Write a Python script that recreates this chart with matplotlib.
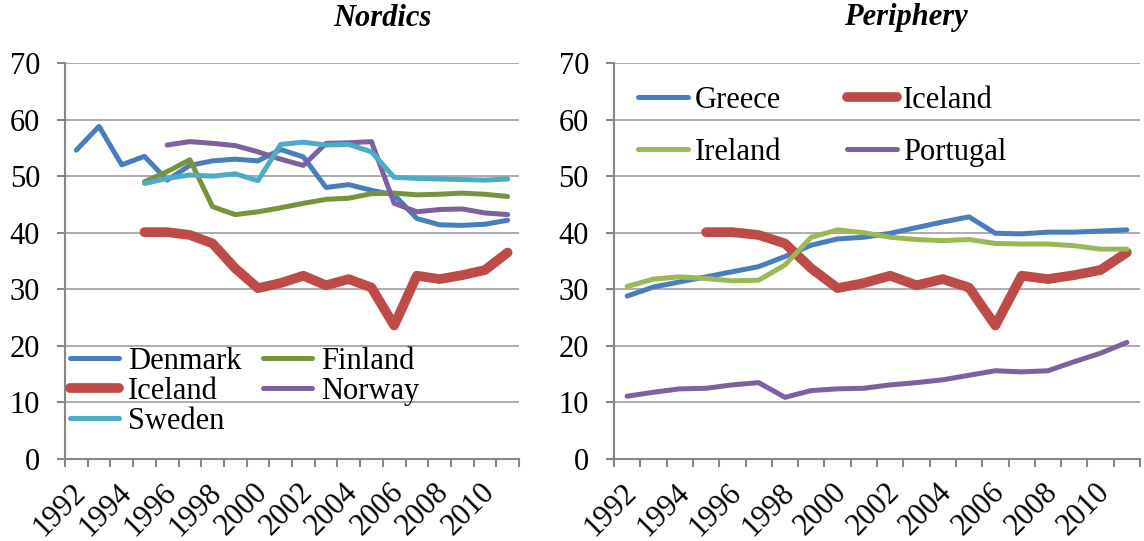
import numpy as np
import matplotlib
matplotlib.use("Agg")
import matplotlib.pyplot as plt
import matplotlib.transforms as mtransforms
from matplotlib.ticker import FixedLocator, NullFormatter, FixedFormatter

nan = np.nan
years = list(range(1992, 2012))
label_years = [str(y) for y in years[::2]]

denmark = [54.6, 58.8, 52.0, 53.5, 49.3, 51.9, 52.7, 53.0, 52.7, 54.7,
           53.4, 48.0, 48.5, 47.5, 46.7, 42.5, 41.4, 41.3, 41.5, 42.2]
finland = [nan, nan, nan, 49.0, 50.8, 52.9, 44.6, 43.2, 43.7, 44.4,
           45.2, 45.9, 46.1, 46.9, 47.0, 46.7, 46.8, 47.0, 46.8, 46.4]
iceland = [nan, nan, nan, 40.1, 40.1, 39.6, 38.1, 33.7, 30.2, 31.1,
           32.4, 30.7, 31.8, 30.3, 23.6, 32.4, 31.8, 32.5, 33.4, 36.5]
norway = [nan, nan, nan, nan, 55.5, 56.1, 55.8, 55.4, 54.3, 53.0,
          51.9, 55.8, 55.9, 56.1, 45.2, 43.7, 44.1, 44.2, 43.5, 43.2]
sweden = [nan, nan, nan, 48.7, 49.6, 50.2, 50.0, 50.4, 49.2, 55.6,
          56.0, 55.5, 55.6, 54.3, 49.8, 49.6, 49.5, 49.4, 49.3, 49.5]

greece = [28.8, 30.4, 31.3, 32.2, 33.1, 34.0, 35.8, 37.8, 38.9, 39.2,
          39.9, 40.9, 41.9, 42.8, 39.9, 39.8, 40.1, 40.1, 40.3, 40.5]
ireland = [30.5, 31.8, 32.2, 31.9, 31.5, 31.6, 34.3, 39.2, 40.5, 40.0,
           39.2, 38.8, 38.6, 38.8, 38.1, 38.0, 38.0, 37.7, 37.1, 37.1]
portugal = [11.1, 11.8, 12.4, 12.5, 13.1, 13.5, 10.9, 12.1, 12.4, 12.5,
            13.1, 13.5, 14.0, 14.8, 15.6, 15.4, 15.6, 17.2, 18.7, 20.6]

plt.rcParams['font.family'] = ['Liberation Serif', 'DejaVu Serif']
FS = 22
W, H = 1144, 541
fig = plt.figure(figsize=(W / 100, H / 100), dpi=100)

def px_axes(x0, x1, y0, y1):
    return fig.add_axes([x0 / W, (H - y1) / H, (x1 - x0) / W, (y1 - y0) / H])

axL = px_axes(65, 519, 63, 459)
axR = px_axes(614, 1140, 63, 459)

BLUE = '#4A7EBB'
RED = '#BE4B48'
OLIVE = '#77933C'
LGREEN = '#98B954'
PURPLE = '#7D60A0'
AQUA = '#4BACC6'
THIN = 3.6
THICK = 7.0
GRID = '#A6A6A6'
AXC = '#868686'

x = np.arange(len(years))
shift = mtransforms.ScaledTranslation(5 / 100, 0, fig.dpi_scale_trans)

def style(ax):
    ax.set_xlim(-0.5, len(years) - 0.5)
    ax.set_ylim(0, 70)
    ax.set_yticks(np.arange(0, 71, 10))
    ax.yaxis.grid(True, color=GRID, linewidth=1.3)
    ax.set_axisbelow(True)
    for s in ['top', 'right']:
        ax.spines[s].set_visible(False)
    for s in ['left', 'bottom']:
        ax.spines[s].set_color(AXC)
        ax.spines[s].set_linewidth(1.5)
    ax.xaxis.set_major_locator(FixedLocator(np.arange(-0.5, len(years), 1.0)))
    ax.xaxis.set_major_formatter(NullFormatter())
    ax.xaxis.set_minor_locator(FixedLocator(x[::2]))
    ax.xaxis.set_minor_formatter(FixedFormatter(label_years))
    ax.tick_params(axis='x', which='major', direction='out', length=6,
                   width=1.5, color=AXC)
    ax.tick_params(axis='x', which='minor', length=0, pad=21, labelsize=FS)
    ax.tick_params(axis='y', direction='out', length=6, width=1.5,
                   color=AXC, labelsize=FS, pad=12)
    for lab in ax.xaxis.get_minorticklabels():
        lab.set_rotation(45)
        lab.set_ha('right')
        lab.set_va('center')
        lab.set_rotation_mode('anchor')
        lab.set_transform(lab.get_transform() + shift)

def plot(ax, vals, color, lw, label):
    return ax.plot(x, vals, color=color, lw=lw, label=label,
                   solid_capstyle='round', solid_joinstyle='round')[0]

style(axL)
style(axR)

hD = plot(axL, denmark, BLUE, THIN, 'Denmark')
hF = plot(axL, finland, OLIVE, THIN, 'Finland')
hI = plot(axL, iceland, RED, THICK, 'Iceland')
hN = plot(axL, norway, PURPLE, THIN, 'Norway')
hS = plot(axL, sweden, AQUA, THIN, 'Sweden')

hG = plot(axR, greece, BLUE, THIN, 'Greece')
hI2 = plot(axR, iceland, RED, THICK, 'Iceland')
hIr = plot(axR, ireland, LGREEN, THIN, 'Ireland')
hP = plot(axR, portugal, PURPLE, THIN, 'Portugal')

fig.legend(handles=[hD, hI, hS, hF, hN], ncol=2, frameon=False, fontsize=FS,
           loc='upper left', bbox_to_anchor=(70 / W, (H - 347) / H),
           borderpad=0, borderaxespad=0, handlelength=1.6,
           handletextpad=0.3, columnspacing=0.7, labelspacing=0.03)
fig.legend(handles=[hG, hIr, hI2, hP], ncol=2, frameon=False, fontsize=FS,
           loc='upper left', bbox_to_anchor=(638 / W, (H - 86) / H),
           borderpad=0, borderaxespad=0, handlelength=1.65,
           handletextpad=0.2, columnspacing=2.15, labelspacing=0.75)

fig.text(382 / W, 1 - 18 / H, 'Nordics', fontsize=22, fontweight='bold',
         fontstyle='italic', ha='center', va='center')
fig.text(906 / W, 1 - 18 / H, 'Periphery', fontsize=22, fontweight='bold',
         fontstyle='italic', ha='center', va='center')

fig.savefig('out.png', dpi=100)
